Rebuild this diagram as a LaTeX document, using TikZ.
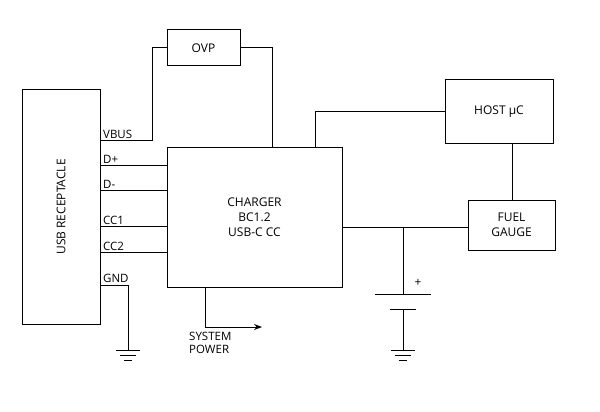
\documentclass[tikz,border=0pt]{standalone}
\usepackage{fontspec}
\setmainfont{Open Sans}
\usetikzlibrary{positioning,arrows.meta,calc}
\tikzset{
  blk/.style={draw,line width=1pt,inner sep=0pt,align=center,font=\fontsize{12}{15}\selectfont},
  pin/.style={font=\fontsize{11.5}{13}\selectfont,anchor=south west,inner sep=1pt},
  wire/.style={line width=1pt},
}
\newcommand{\gndsym}[1]{%
  \draw[wire] ($(#1)+(-12,0)$) -- ($(#1)+(12,0)$)
    ($(#1)+(-8,5)$) -- ($(#1)+(8,5)$)
    ($(#1)+(-4,10)$) -- ($(#1)+(4,10)$);}
\begin{document}
\begin{tikzpicture}[x=1pt,y=-1pt]
\useasboundingbox (0,0) rectangle (600,412);
% blocks
\node[blk,minimum width=78pt,minimum height=235pt] (usb) at (61,207) {};
\node[rotate=90,font=\fontsize{12}{15}\selectfont] at (usb.center) {USB RECEPTACLE};
\node[blk,minimum width=175pt,minimum height=140pt] (chg) at (254.5,217) {CHARGER\\BC1.2\\USB-C CC};
\node[blk,minimum width=73pt,minimum height=36pt] (ovp) at (203.5,48) {OVP};
\node[blk,minimum width=108pt,minimum height=63pt] (host) at (499,111.5) {HOST µC};
\node[blk,minimum width=87pt,minimum height=50pt] (fuel) at (511.5,225) {FUEL\\GAUGE};
% pins
\node[pin] at (102,140) {VBUS};
\node[pin] at (102,165) {D+};
\node[pin] at (102,190) {D-};
\node[pin] at (102,226) {CC1};
\node[pin] at (102,252) {CC2};
\node[pin] at (102,284) {GND};
% wires
\draw[wire] (usb.east|-0,140) -- (152,140) |- (ovp.west);
\draw[wire] (ovp.east) -| (272,0|-chg.north);
\foreach \y in {165,190,226,252}
  \draw[wire] (usb.east|-0,\y) -- (chg.west|-0,\y);
\coordinate (g1) at (128,350);
\draw[wire] (usb.east|-0,285) -| (g1);
\gndsym{g1}
\coordinate (sp) at (262,327);
\draw[wire,-{Stealth[length=8pt,width=6pt]}] (205,0|-chg.south) |- (sp);
\node[align=left,font=\fontsize{11.5}{13}\selectfont,anchor=north west,inner sep=0pt] at (189,332) {SYSTEM\\POWER};
\draw[wire] (315,0|-chg.north) |- (host.west);
\draw[wire] (host.south-|512,0) -- (fuel.north-|512,0);
\coordinate (bt) at (403,227);
\draw[wire] (chg.east|-bt) -- (fuel.west|-bt);
% battery
\coordinate (bp) at (403,294);
\coordinate (bn) at (403,309);
\coordinate (g2) at (403,350);
\draw[wire] (bt) -- (bp);
\draw[wire] (375,294) -- (431,294);
\draw[wire] (390,309) -- (416,309);
\draw[wire] (bn) -- (g2);
\gndsym{g2}
\node[font=\fontsize{12}{15}\selectfont] at (418,283) {+};
\end{tikzpicture}
\end{document}
